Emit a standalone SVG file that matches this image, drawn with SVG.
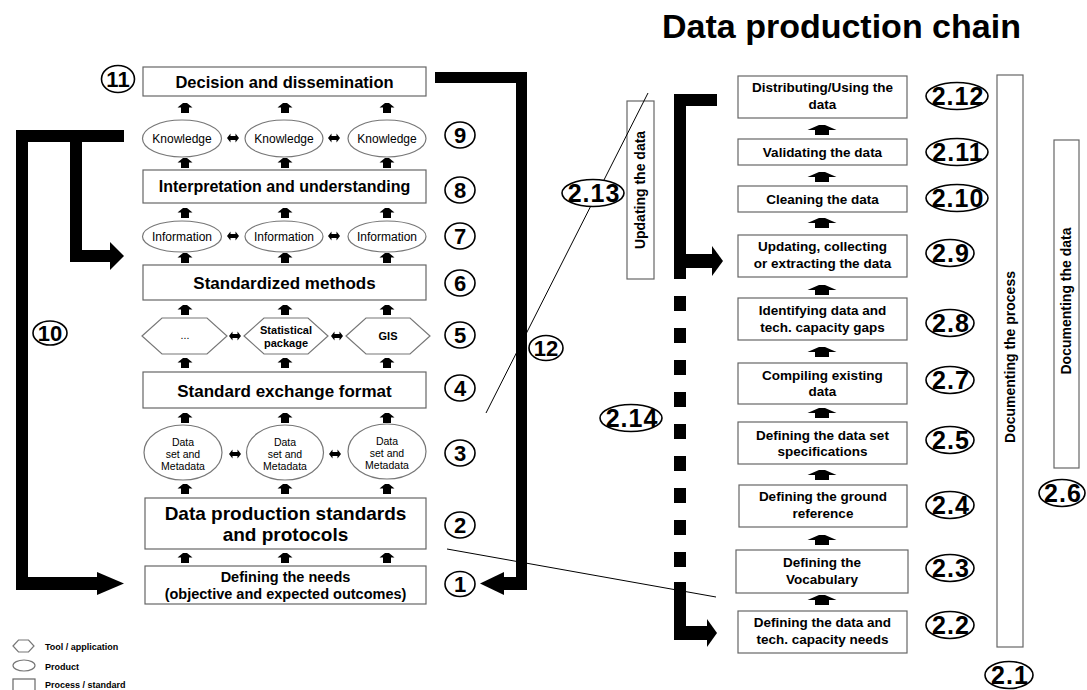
<svg xmlns="http://www.w3.org/2000/svg" xmlns:xlink="http://www.w3.org/1999/xlink" width="1087" height="690" viewBox="0 0 1087 690">
<style>
text{font-family:"Liberation Sans",Arial,sans-serif;fill:#000}
.b{font-weight:bold}
.box{fill:#fff;stroke:#666;stroke-width:1.2}
.prod{fill:#fff;stroke:#777;stroke-width:1.2}
.num{fill:#fff;stroke:#000;stroke-width:1.6}
.n1{font-size:22px;font-weight:bold;text-anchor:middle}
.n2{font-size:25px;font-weight:bold;text-anchor:middle;letter-spacing:1px}
.lt{font-size:16.5px;font-weight:bold;text-anchor:middle}
.rt{font-size:13.5px;font-weight:bold;text-anchor:middle}
.pt{font-size:12px;text-anchor:middle}
.dt{font-size:10.5px;text-anchor:middle}
.ht{font-size:11px;font-weight:bold;text-anchor:middle}
.vt{font-size:14px;font-weight:bold;text-anchor:middle}
.lg{font-size:9px;font-weight:bold}
.thin{stroke:#000;stroke-width:1;fill:none}
</style>
<defs>
<path id="ua" d="M-2,0 L2,0 L7.5,4.5 L4,4.5 L4,10 L-4,10 L-4,4.5 L-7.5,4.5 Z" fill="#000"/>
<path id="da" d="M-6,0 L-2.5,-4.5 L-2.5,-2 L2.5,-2 L2.5,-4.5 L6,0 L2.5,4.5 L2.5,2 L-2.5,2 L-2.5,4.5 Z" fill="#000"/>
<path id="ba" d="M-3,0 L3,0 L14.5,5 L7,5 L7,10 L-7,10 L-7,5 L-14.5,5 Z" fill="#000"/>
</defs>
<rect width="1087" height="690" fill="#fff"/>

<!-- Title -->
<text id="title" x="662" y="38" class="b" style="font-size:34px">Data production chain</text>

<!-- Left column nodes -->
<g id="n-decision"><rect class="box" x="143" y="67" width="283" height="29"/><text class="lt" x="284.5" y="88">Decision and dissemination</text></g>
<g id="n-knowledge1"><ellipse class="prod" cx="182" cy="138.5" rx="39.5" ry="18.5"/><text class="pt" x="182" y="142.5">Knowledge</text></g>
<g id="n-knowledge2"><ellipse class="prod" cx="284" cy="138.5" rx="39" ry="18.5"/><text class="pt" x="284" y="142.5">Knowledge</text></g>
<g id="n-knowledge3"><ellipse class="prod" cx="387" cy="138.5" rx="39" ry="18.5"/><text class="pt" x="387" y="142.5">Knowledge</text></g>
<g id="n-interp"><rect class="box" x="143" y="170" width="283" height="33"/><text class="lt" x="284.5" y="192" style="font-size:16px">Interpretation and understanding</text></g>
<g id="n-info1"><ellipse class="prod" cx="182" cy="236.5" rx="39.5" ry="15.5"/><text class="pt" x="182" y="240.5">Information</text></g>
<g id="n-info2"><ellipse class="prod" cx="284" cy="236.5" rx="39" ry="15.5"/><text class="pt" x="284" y="240.5">Information</text></g>
<g id="n-info3"><ellipse class="prod" cx="387" cy="236.5" rx="39" ry="15.5"/><text class="pt" x="387" y="240.5">Information</text></g>
<g id="n-methods"><rect class="box" x="143" y="265" width="283" height="35"/><text class="lt" x="284.5" y="288.5" style="font-size:17px">Standardized methods</text></g>
<g id="n-tool1"><polygon class="prod" points="142,336 162,318 207,318 227,336 207,354 162,354"/><text class="dt" x="185" y="339">...</text></g>
<g id="n-tool2"><polygon class="prod" points="244,336 264,318 308,318 328,336 308,354 264,354"/><text class="ht" x="286" y="333.5">Statistical</text><text class="ht" x="286" y="346.5">package</text></g>
<g id="n-tool3"><polygon class="prod" points="346,336 366,318 410,318 430,336 410,354 366,354"/><text class="ht" x="388" y="340">GIS</text></g>
<g id="n-exchange"><rect class="box" x="143" y="372" width="283" height="36"/><text class="lt" x="284.5" y="396.5" style="font-size:17px">Standard exchange format</text></g>
<g id="n-data1"><ellipse class="prod" cx="183" cy="452.5" rx="39" ry="27.5"/><text class="dt" x="183" y="446">Data</text><text class="dt" x="183" y="458">set and</text><text class="dt" x="183" y="470">Metadata</text></g>
<g id="n-data2"><ellipse class="prod" cx="285" cy="452.5" rx="38.5" ry="27.5"/><text class="dt" x="285" y="446">Data</text><text class="dt" x="285" y="458">set and</text><text class="dt" x="285" y="470">Metadata</text></g>
<g id="n-data3"><ellipse class="prod" cx="387" cy="451.5" rx="39" ry="27.5"/><text class="dt" x="387" y="445">Data</text><text class="dt" x="387" y="457">set and</text><text class="dt" x="387" y="469">Metadata</text></g>
<g id="n-standards"><rect class="box" x="145" y="498" width="281" height="51"/><text class="lt" x="285.5" y="520" style="font-size:19px">Data production standards</text><text class="lt" x="285.5" y="541" style="font-size:19px">and protocols</text></g>
<g id="n-needs"><rect class="box" x="145" y="566" width="281" height="38"/><text class="lt" x="285.5" y="582" style="font-size:14.5px">Defining the needs</text><text class="lt" x="285.5" y="599" style="font-size:14.5px">(objective and expected outcomes)</text></g>

<!-- Left numbers -->
<g id="num-11"><ellipse class="num" cx="118" cy="79" rx="16.5" ry="13.5"/><text class="n1" x="118" y="87">11</text></g>
<g id="num-9"><ellipse class="num" cx="460" cy="135" rx="15" ry="13"/><text class="n1" x="460" y="143">9</text></g>
<g id="num-8"><ellipse class="num" cx="460" cy="190" rx="15" ry="13"/><text class="n1" x="460" y="198">8</text></g>
<g id="num-7"><ellipse class="num" cx="460" cy="236" rx="15" ry="13"/><text class="n1" x="460" y="244">7</text></g>
<g id="num-6"><ellipse class="num" cx="460" cy="283" rx="15" ry="13"/><text class="n1" x="460" y="291">6</text></g>
<g id="num-5"><ellipse class="num" cx="460" cy="335" rx="15" ry="13"/><text class="n1" x="460" y="343">5</text></g>
<g id="num-4"><ellipse class="num" cx="460" cy="388" rx="15" ry="13"/><text class="n1" x="460" y="396">4</text></g>
<g id="num-3"><ellipse class="num" cx="460" cy="453" rx="15" ry="13"/><text class="n1" x="460" y="461">3</text></g>
<g id="num-2"><ellipse class="num" cx="460" cy="525" rx="15" ry="13"/><text class="n1" x="460" y="533">2</text></g>
<g id="num-1"><ellipse class="num" cx="460" cy="584" rx="15" ry="12.5"/><text class="n1" x="460" y="592">1</text></g>
<g id="num-10"><ellipse class="num" cx="50" cy="333" rx="17" ry="12"/><text class="n1" x="50" y="341">10</text></g>
<g id="num-12"><ellipse class="num" cx="546" cy="348" rx="17" ry="12.5"/><text class="n1" x="546" y="356">12</text></g>

<!-- Right column nodes -->
<g id="r-distributing"><rect class="box" x="738" y="76" width="169" height="42"/><text class="rt" x="822.5" y="92">Distributing/Using the</text><text class="rt" x="822.5" y="109">data</text></g>
<g id="r-validating"><rect class="box" x="738" y="139" width="169" height="26"/><text class="rt" x="822.5" y="157">Validating the data</text></g>
<g id="r-cleaning"><rect class="box" x="738" y="186" width="169" height="26"/><text class="rt" x="822.5" y="204">Cleaning the data</text></g>
<g id="r-updating"><rect class="box" x="738" y="235" width="169" height="42"/><text class="rt" x="822.5" y="251">Updating, collecting</text><text class="rt" x="822.5" y="268">or extracting the data</text></g>
<g id="r-identifying"><rect class="box" x="738" y="298" width="169" height="42"/><text class="rt" x="822.5" y="315">Identifying data and</text><text class="rt" x="822.5" y="332">tech. capacity gaps</text></g>
<g id="r-compiling"><rect class="box" x="738" y="363" width="169" height="41"/><text class="rt" x="822.5" y="380">Compiling existing</text><text class="rt" x="822.5" y="396">data</text></g>
<g id="r-specs"><rect class="box" x="738" y="422" width="169" height="42"/><text class="rt" x="822.5" y="440">Defining the data set</text><text class="rt" x="822.5" y="456">specifications</text></g>
<g id="r-ground"><rect class="box" x="739" y="485" width="168" height="42"/><text class="rt" x="823" y="501">Defining the ground</text><text class="rt" x="823" y="518">reference</text></g>
<g id="r-vocab"><rect class="box" x="736" y="550" width="172" height="43"/><text class="rt" x="822" y="567">Defining the</text><text class="rt" x="822" y="584">Vocabulary</text></g>
<g id="r-needs"><rect class="box" x="738" y="611" width="169" height="42"/><text class="rt" x="822.5" y="627">Defining the data and</text><text class="rt" x="822.5" y="644">tech. capacity needs</text></g>

<g id="r-docprocess"><rect class="box" x="997" y="75" width="26" height="572"/><text class="vt" transform="translate(1015 357) rotate(-90)">Documenting the process</text></g>
<g id="r-docdata"><rect class="box" x="1054" y="140" width="25" height="328"/><text class="vt" transform="translate(1071 301) rotate(-90)">Documenting the data</text></g>
<g id="r-updatingdata"><rect class="box" x="627" y="101" width="27" height="178"/><text class="vt" transform="translate(645 190) rotate(-90)">Updating the data</text></g>

<!-- Connectors -->
<g id="connectors">
  <use xlink:href="#ua" x="185" y="103"/><use xlink:href="#ua" x="285" y="103"/><use xlink:href="#ua" x="387" y="103"/>
  <use xlink:href="#ua" x="185" y="158"/><use xlink:href="#ua" x="285" y="158"/><use xlink:href="#ua" x="387" y="158"/>
  <use xlink:href="#ua" x="185" y="208"/><use xlink:href="#ua" x="285" y="208"/><use xlink:href="#ua" x="387" y="208"/>
  <use xlink:href="#ua" x="185" y="253"/><use xlink:href="#ua" x="285" y="253"/><use xlink:href="#ua" x="387" y="253"/>
  <use xlink:href="#ua" x="185" y="305"/><use xlink:href="#ua" x="285" y="305"/><use xlink:href="#ua" x="387" y="305"/>
  <use xlink:href="#ua" x="185" y="358"/><use xlink:href="#ua" x="285" y="358"/><use xlink:href="#ua" x="387" y="358"/>
  <use xlink:href="#ua" x="185" y="413"/><use xlink:href="#ua" x="285" y="413"/><use xlink:href="#ua" x="387" y="413"/>
  <use xlink:href="#ua" x="185" y="484"/><use xlink:href="#ua" x="285" y="484"/><use xlink:href="#ua" x="387" y="484"/>
  <use xlink:href="#ua" x="185" y="553"/><use xlink:href="#ua" x="285" y="553"/><use xlink:href="#ua" x="387" y="553"/>
  <use xlink:href="#da" x="233" y="138"/><use xlink:href="#da" x="334" y="138"/>
  <use xlink:href="#da" x="233" y="236"/><use xlink:href="#da" x="334" y="236"/>
  <use xlink:href="#da" x="235" y="336"/><use xlink:href="#da" x="337" y="336"/>
  <use xlink:href="#da" x="235" y="454"/><use xlink:href="#da" x="335" y="454"/>
  <use xlink:href="#ba" x="822" y="125"/>
  <use xlink:href="#ba" x="822" y="172"/>
  <use xlink:href="#ba" x="822" y="218"/>
  <use xlink:href="#ba" x="822" y="285"/>
  <use xlink:href="#ba" x="822" y="347"/>
  <use xlink:href="#ba" x="822" y="408"/>
  <use xlink:href="#ba" x="822" y="470"/>
  <use xlink:href="#ba" x="822" y="535"/>
  <use xlink:href="#ba" x="822" y="595"/>
  <g id="arrow-10" fill="#000">
    <rect x="16" y="130" width="108" height="12"/>
    <rect x="16" y="130" width="12" height="460"/>
    <rect x="16" y="577" width="82" height="13"/>
    <polygon points="97,572 124,583.5 97,595"/>
    <rect x="70" y="130" width="12" height="132"/>
    <rect x="70" y="250" width="42" height="12"/>
    <polygon points="110,242 124,256 110,270"/>
  </g>
  <g id="arrow-12" fill="#000">
    <rect x="435" y="72" width="92" height="11"/>
    <rect x="516" y="72" width="11" height="518"/>
    <rect x="502" y="577" width="25" height="13"/>
    <polygon points="504,572 480,583.5 504,595"/>
  </g>
  <g id="arrow-213" fill="#000">
    <rect x="674" y="94" width="43" height="12"/>
    <rect x="674" y="94" width="12" height="185"/>
    <rect x="686" y="254" width="27" height="14"/>
    <polygon points="712,246 723,261 712,276"/>
  </g>
  <g id="arrow-214" fill="#000">
    <rect x="674" y="296" width="12" height="15"/>
    <rect x="674" y="328" width="12" height="15"/>
    <rect x="674" y="360" width="12" height="15"/>
    <rect x="674" y="392" width="12" height="15"/>
    <rect x="674" y="424" width="12" height="15"/>
    <rect x="674" y="456" width="12" height="15"/>
    <rect x="674" y="488" width="12" height="15"/>
    <rect x="674" y="520" width="12" height="15"/>
    <rect x="674" y="552" width="12" height="15"/>
    <rect x="674" y="582" width="12" height="58"/>
    <rect x="686" y="626" width="22" height="14"/>
    <polygon points="707,619 717,633 707,647"/>
  </g>
  <line class="thin" x1="486" y1="413" x2="648" y2="93"/>
  <line class="thin" x1="447" y1="549" x2="716" y2="597"/>
</g>

<!-- Right numbers -->
<g id="num-212"><ellipse class="num" cx="957" cy="96" rx="31" ry="13.5"/><text class="n2" x="958" y="105">2.12</text></g>
<g id="num-211"><ellipse class="num" cx="957" cy="152" rx="31" ry="13.5"/><text class="n2" x="958" y="161">2.11</text></g>
<g id="num-210"><ellipse class="num" cx="957" cy="198" rx="31" ry="13.5"/><text class="n2" x="958" y="207">2.10</text></g>
<g id="num-29"><ellipse class="num" cx="950" cy="253" rx="24" ry="13.5"/><text class="n2" x="951" y="262">2.9</text></g>
<g id="num-28"><ellipse class="num" cx="950" cy="323" rx="24" ry="13.5"/><text class="n2" x="951" y="332">2.8</text></g>
<g id="num-27"><ellipse class="num" cx="950" cy="380" rx="24" ry="13.5"/><text class="n2" x="951" y="389">2.7</text></g>
<g id="num-25"><ellipse class="num" cx="950" cy="440" rx="24" ry="13.5"/><text class="n2" x="951" y="449">2.5</text></g>
<g id="num-24"><ellipse class="num" cx="950" cy="505" rx="24" ry="13.5"/><text class="n2" x="951" y="514">2.4</text></g>
<g id="num-23"><ellipse class="num" cx="950" cy="568" rx="24" ry="13.5"/><text class="n2" x="951" y="577">2.3</text></g>
<g id="num-22"><ellipse class="num" cx="950" cy="625" rx="24" ry="13.5"/><text class="n2" x="951" y="634">2.2</text></g>
<g id="num-21"><ellipse class="num" cx="1009" cy="675" rx="24" ry="13.5"/><text class="n2" x="1010" y="684">2.1</text></g>
<g id="num-26"><ellipse class="num" cx="1062" cy="493" rx="23" ry="13.5"/><text class="n2" x="1063" y="502">2.6</text></g>
<g id="num-213"><ellipse class="num" cx="593" cy="193" rx="31" ry="13.5"/><text class="n2" x="594" y="202">2.13</text></g>
<g id="num-214"><ellipse class="num" cx="631" cy="418" rx="31" ry="13.5"/><text class="n2" x="632" y="427">2.14</text></g>

<!-- Legend -->
<g id="legend">
  <polygon class="prod" points="13,646 18.5,640 28.5,640 34,646 28.5,652 18.5,652"/>
  <text class="lg" x="45" y="650">Tool / application</text>
  <ellipse class="prod" cx="24" cy="665.5" rx="11" ry="5.5"/>
  <text class="lg" x="45" y="670">Product</text>
  <rect class="box" x="13" y="679" width="22" height="12"/>
  <text class="lg" x="45" y="688">Process / standard</text>
</g>
</svg>
